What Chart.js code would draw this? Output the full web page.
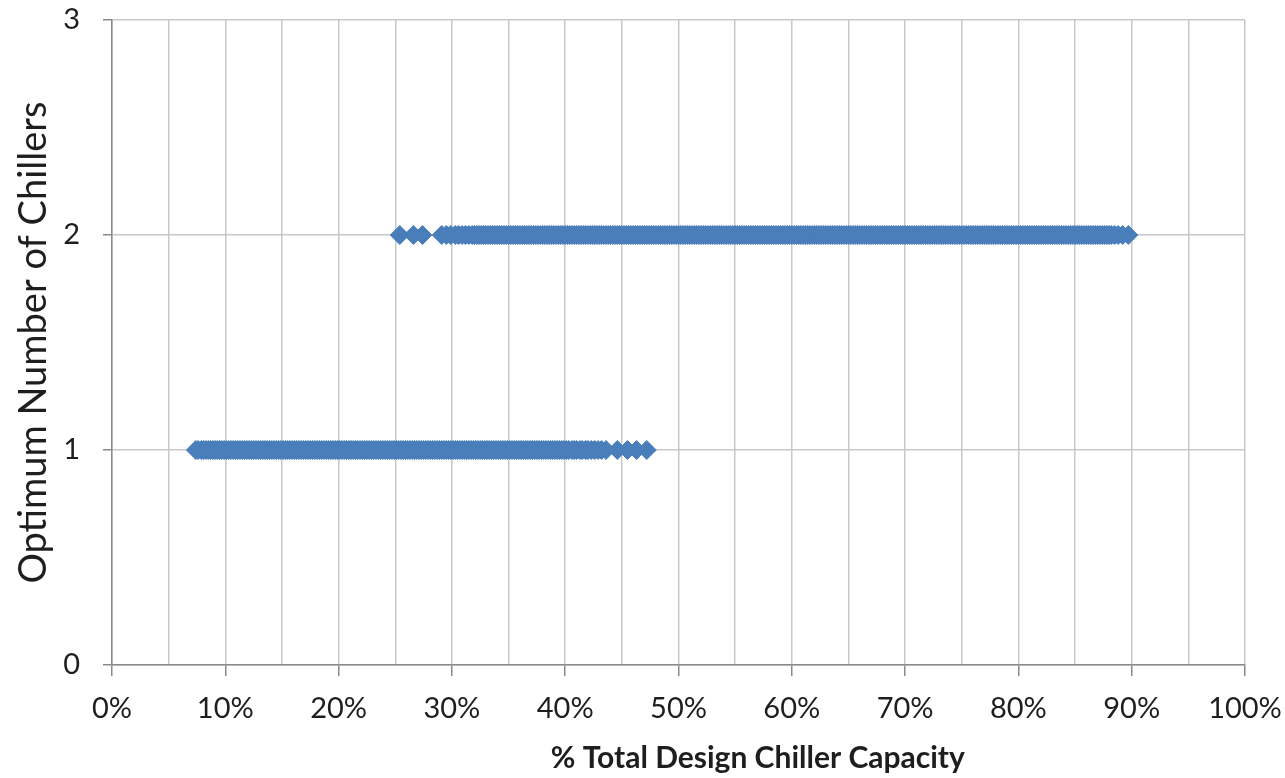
<!DOCTYPE html>
<html>
<head>
<meta charset="utf-8">
<script src="https://cdn.jsdelivr.net/npm/chart.js@4/dist/chart.umd.min.js"></script>
<style>
  html, body { margin: 0; padding: 0; background: #ffffff; }
  #wrap { width: 1285px; height: 778px; }
</style>
</head>
<body>
<div id="wrap"><canvas id="c" width="1285" height="778"></canvas></div>
<script>
// Load levels (% of total design chiller capacity) at which one chiller is optimum
const oneChillerLoads = [
  7.4, 7.6, 7.9, 8.1, 8.3, 8.5, 8.7, 8.9, 9.1, 9.3, 9.5, 9.7, 9.9, 10.1, 10.3, 10.5, 10.7, 10.9, 11.1, 11.3,
  11.5, 11.7, 11.9, 12.1, 12.3, 12.5, 12.7, 12.9, 13.1, 13.3, 13.5, 13.7, 13.9, 14.1, 14.3, 14.5, 14.7, 14.9, 15.1, 15.3,
  15.5, 15.7, 15.9, 16.1, 16.3, 16.5, 16.7, 16.9, 17.1, 17.3, 17.5, 17.7, 17.9, 18.1, 18.3, 18.5, 18.7, 18.9, 19.1, 19.3,
  19.5, 19.7, 19.9, 20.1, 20.3, 20.5, 20.7, 20.9, 21.1, 21.3, 21.5, 21.7, 21.9, 22.1, 22.3, 22.5, 22.7, 22.9, 23.1, 23.3,
  23.5, 23.7, 23.9, 24.1, 24.3, 24.5, 24.7, 24.9, 25.1, 25.3, 25.5, 25.7, 25.9, 26.1, 26.3, 26.5, 26.7, 26.9, 27.1, 27.3,
  27.5, 27.7, 27.9, 28.1, 28.3, 28.5, 28.7, 28.9, 29.1, 29.3, 29.5, 29.7, 29.9, 30.1, 30.3, 30.5, 30.7, 30.9, 31.1, 31.3,
  31.5, 31.7, 31.9, 32.1, 32.3, 32.5, 32.7, 32.9, 33.1, 33.3, 33.5, 33.7, 33.9, 34.1, 34.3, 34.5, 34.7, 34.9, 35.1, 35.3,
  35.5, 35.7, 35.9, 36.1, 36.3, 36.5, 36.7, 36.9, 37.1, 37.3, 37.5, 37.7, 37.9, 38.1, 38.3, 38.5, 38.7, 38.9, 39.1, 39.3,
  39.5, 39.7, 39.9, 40.1, 40.3, 40.6, 40.8, 41.0, 41.3, 41.5, 41.8, 42.0, 42.3, 42.6, 42.9, 43.2, 43.6,
  44.6, 45.5, 46.3, 47.2
];

// Load levels at which two chillers are optimum
const twoChillerLoads = [
  25.4, 26.6, 27.4, 29.1, 29.5, 29.9, 30.3, 30.6, 30.9, 31.2, 31.5, 31.8, 32.0, 32.2,
  32.4, 32.6, 32.8, 33.0, 33.2, 33.4, 33.6, 33.8, 34.0, 34.2, 34.4, 34.6, 34.8, 35.0, 35.2, 35.4, 35.6, 35.8, 36.0, 36.2,
  36.4, 36.6, 36.8, 37.0, 37.2, 37.4, 37.6, 37.8, 38.0, 38.2, 38.4, 38.6, 38.8, 39.0, 39.2, 39.4, 39.6, 39.8, 40.0, 40.2,
  40.4, 40.6, 40.8, 41.0, 41.2, 41.4, 41.6, 41.8, 42.0, 42.2, 42.4, 42.6, 42.8, 43.0, 43.2, 43.4, 43.6, 43.8, 44.0, 44.2,
  44.4, 44.6, 44.8, 45.0, 45.2, 45.4, 45.6, 45.8, 46.0, 46.2, 46.4, 46.6, 46.8, 47.0, 47.2, 47.4, 47.6, 47.8, 48.0, 48.2,
  48.4, 48.6, 48.8, 49.0, 49.2, 49.4, 49.6, 49.8, 50.0, 50.2, 50.4, 50.6, 50.8, 51.0, 51.2, 51.4, 51.6, 51.8, 52.0, 52.2,
  52.4, 52.6, 52.8, 53.0, 53.2, 53.4, 53.6, 53.8, 54.0, 54.2, 54.4, 54.6, 54.8, 55.0, 55.2, 55.4, 55.6, 55.8, 56.0, 56.2,
  56.4, 56.6, 56.8, 57.0, 57.2, 57.4, 57.6, 57.8, 58.0, 58.2, 58.4, 58.6, 58.8, 59.0, 59.2, 59.4, 59.6, 59.8, 60.0, 60.2,
  60.4, 60.6, 60.8, 61.0, 61.2, 61.4, 61.6, 61.8, 62.0, 62.2, 62.4, 62.6, 62.8, 63.0, 63.2, 63.4, 63.6, 63.8, 64.0, 64.2,
  64.4, 64.6, 64.8, 65.0, 65.2, 65.4, 65.6, 65.8, 66.0, 66.2, 66.4, 66.6, 66.8, 67.0, 67.2, 67.4, 67.6, 67.8, 68.0, 68.2,
  68.4, 68.6, 68.8, 69.0, 69.2, 69.4, 69.6, 69.8, 70.0, 70.2, 70.4, 70.6, 70.8, 71.0, 71.2, 71.4, 71.6, 71.8, 72.0, 72.2,
  72.4, 72.6, 72.8, 73.0, 73.2, 73.4, 73.6, 73.8, 74.0, 74.2, 74.4, 74.6, 74.8, 75.0, 75.2, 75.4, 75.6, 75.8, 76.0, 76.2,
  76.4, 76.6, 76.8, 77.0, 77.2, 77.4, 77.6, 77.8, 78.0, 78.2, 78.4, 78.6, 78.8, 79.0, 79.2, 79.4, 79.6, 79.8, 80.0, 80.2,
  80.4, 80.6, 80.8, 81.0, 81.2, 81.4, 81.6, 81.8, 82.0, 82.2, 82.4, 82.6, 82.8, 83.0, 83.2, 83.4, 83.6, 83.8, 84.0, 84.2,
  84.4, 84.6, 84.8, 85.0, 85.2, 85.4, 85.6, 85.8, 86.0, 86.2, 86.4, 86.6, 86.8, 87.0, 87.2, 87.4, 87.6, 87.8, 88.0, 88.2,
  88.5, 88.8, 89.2, 89.7
];

const chillerCounts = [1, 2];
const xTickLabelStep = 10;   // labelled every 10 %
const xGridStep = 5;         // gridlines every 5 %
const xAxisTitle = '% Total Design Chiller Capacity';
const yAxisTitle = 'Optimum Number of Chillers';

const markerColor = '#4a7ebb';
const gridColor = '#c8c8c8';
const axisColor = '#8a8a8a';
const textColor = '#1e1e1e';
const family = 'Lato, "Open Sans", "DejaVu Sans", sans-serif';

function toPoints(loads, count) {
  return loads.map(x => ({ x: x, y: count }));
}

const markerStyle = {
  pointStyle: 'rectRot',
  pointRadius: 9.5,
  borderWidth: 1,
  backgroundColor: markerColor,
  borderColor: markerColor
};

// The x-axis title sits a little right of the plot centre, below the tick labels
const xTitlePlugin = {
  id: 'xTitle',
  afterDraw(chart) {
    const { ctx, chartArea } = chart;
    const cx = chartArea.left + (chartArea.right - chartArea.left) * 0.57;
    ctx.save();
    ctx.font = 'bold 30px ' + family;
    ctx.fillStyle = textColor;
    ctx.textAlign = 'center';
    ctx.textBaseline = 'middle';
    ctx.fillText(xAxisTitle, cx, chart.height - 20);
    ctx.restore();
  }
};

new Chart(document.getElementById('c'), {
  type: 'scatter',
  data: {
    datasets: [
      Object.assign({ data: toPoints(oneChillerLoads, chillerCounts[0]) }, markerStyle),
      Object.assign({ data: toPoints(twoChillerLoads, chillerCounts[1]) }, markerStyle)
    ]
  },
  plugins: [xTitlePlugin],
  options: {
    responsive: false,
    animation: false,
    events: [],
    layout: { padding: 0 },
    plugins: {
      legend: { display: false },
      tooltip: { enabled: false }
    },
    scales: {
      x: {
        type: 'linear',
        min: 0,
        max: 100,
        afterFit: s => { s.height = 113; s.paddingLeft = 0; s.paddingRight = 40; },
        ticks: {
          stepSize: xGridStep,
          autoSkip: false,
          maxRotation: 0,
          padding: 15,
          color: textColor,
          font: { family: family, size: 29 },
          callback: v => (v % xTickLabelStep === 0 ? v + '%' : '')
        },
        grid: {
          color: gridColor,
          lineWidth: 1.5,
          tickLength: 11,
          tickColor: c => (c.tick && c.tick.value % xTickLabelStep === 0 ? axisColor : 'rgba(0,0,0,0)'),
          tickWidth: 1.5
        },
        border: { color: axisColor, width: 1.5 },
        title: { display: false }
      },
      y: {
        type: 'linear',
        min: 0,
        max: 3,
        afterFit: s => { s.width = 112; s.paddingTop = 20; s.paddingBottom = 0; },
        ticks: {
          stepSize: 1,
          padding: 23,
          color: textColor,
          font: { family: family, size: 29 }
        },
        grid: {
          color: gridColor,
          lineWidth: 1.5,
          tickLength: 9,
          tickColor: axisColor,
          tickWidth: 1.5
        },
        border: { color: axisColor, width: 1.5 },
        title: {
          display: true,
          text: yAxisTitle,
          color: textColor,
          font: { family: family, size: 38 },
          padding: { top: 11, bottom: 0 }
        }
      }
    }
  }
});
</script>
</body>
</html>
